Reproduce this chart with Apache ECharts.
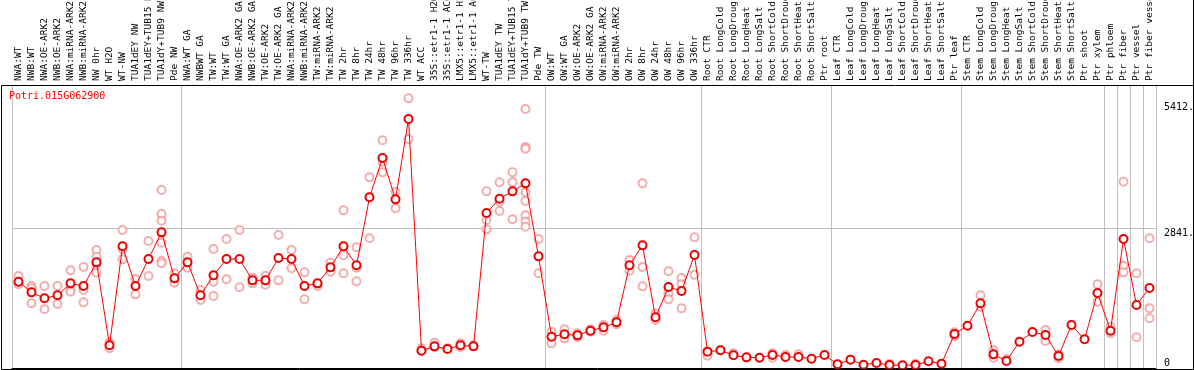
<!DOCTYPE html>
<html><head><meta charset="utf-8">
<script src="https://cdn.jsdelivr.net/npm/echarts@6/dist/echarts.min.js"></script>
<style>html,body{margin:0;padding:0;background:#fff;overflow:hidden}#c{width:1194px;height:370px}</style>
</head><body><div id="c"></div>
<script>
const geneName = 'Potri.015G062900';

const categories = [
  'NWA:WT','NWB:WT','NWA:OE-ARK2','NWB:OE-ARK2','NWA:miRNA-ARK2','NWB:miRNA-ARK2','NW 0hr','WT H2O','WT-NW','TUA1dEY NW','TUA1dEY+TUB15 NW','TUA1dY+TUB9 NW','Pde NW',
  'NWA:WT GA','NWBWT GA','TW:WT','TW:WT GA','NWA:OE-ARK2 GA','NWB:OE-ARK2 GA','TW:OE-ARK2','TW:OE-ARK2 GA','NWA:miRNA-ARK2 GA','NWB:miRNA-ARK2 GA','TW:miRNA-ARK2','TW:miRNA-ARK2',
  'TW 2hr','TW 8hr','TW 24hr','TW 48hr','TW 96hr','TW 336hr','WT ACC','35S::etr1-1 H2O','35S::etr1-1 ACC','LMX5::etr1-1 H2O','LMX5::etr1-1 ACC','WT-TW','TUA1dEY TW','TUA1dEY+TUB15 TW','TUA1dY+TUB9 TW','Pde TW',
  'OW:WT','OW:WT GA','OW:OE-ARK2','OW:OE-ARK2 GA','OW:miRNA-ARK2','OW:miRNA-ARK2','OW 2hr','OW 8hr','OW 24hr','OW 48hr','OW 96hr','OW 336hr',
  'Root CTR','Root LongCold','Root LongDrought','Root LongHeat','Root LongSalt','Root ShortCold','Root ShortDrought','Root ShortHeat','Root ShortSalt','Ptr root',
  'Leaf CTR','Leaf LongCold','Leaf LongDrought','Leaf LongHeat','Leaf LongSalt','Leaf ShortCold','Leaf ShortDrought','Leaf ShortHeat','Leaf ShortSalt','Ptr leaf',
  'Stem CTR','Stem LongCold','Stem LongDrought','Stem LongHeat','Stem LongSalt','Stem ShortCold','Stem ShortDrought','Stem ShortHeat','Stem ShortSalt','Ptr shoot',
  'Ptr xylem','Ptr phloem','Ptr fiber','Ptr vessel','Ptr fiber vessel'
];

const mainValues = [
  1758,1541,1419,1480,1724,1670,2152,462,2478,1670,2220,2763,1826,
  2152,1480,1887,2220,2220,1785,1785,2240,2220,1670,1724,2050,2478,2091,3476,4277,3435,5071,353,441,387,462,441,3157,3449,3598,3761,2274,
  638,686,665,760,828,930,2091,2498,1032,1650,1568,2301,
  333,360,258,217,210,265,224,224,190,265,
  75,170,68,102,61,54,61,136,88,692,
  862,1317,278,143,536,733,672,244,876,584,
  1527,760,2627,1283,1629
];

const replicateValues = [
  [1874,1704],[1670,1622,1317],[1670,1195],[1670,1303],[1989,1589,1555],[2057,1589,1337],[2403,2267,2098,1942],[516,401],[2811,2417,2213],[1813,1500],[2586,1874],[3625,3136,3001,2553,2179,2132],[1928,1738],
  [2267,2043],[1589,1385],[2424,1758,1466],[2627,1806],[2811,1643],[1840,1724],[1880,1697],[2709,1785],[2403,2030],[1948,1398],[1704,1670],[2145,1962],[3211,2295,1928],[2458,2043,1765],[3883,2641],[4637,4202,3985],[3591,3252],[5492,4664],[353,401],[516,421],[401],[502,421],[462],[3598,3014,2824],[3781,3388,3197],[3985,3781,3028],[5275,4501,4467,3578,3401,3109,2980,2878],[2627,1928],
  [740,502],[788,604],[706,625],[788,740],[876,760],[978,889],[2200,1982],[3761,2057,1663],[1113,978],[1969,1521,1398],[1833,1704,1215],[2661,1901],
  [251],[360],[299],[],[],[299,210],[265],[278],[],[],
  [],[],[],[],[88],[],[88],[],[],[726,645],
  [],[1480,1249],[367,210],[183],[],[],[774,550],[278,197],[],[],
  [1704,1351],[842,706],[3795,2084,1948],[1928,625],[2641,1215,1012]
];

const groupStarts = [0,13,41,53,63,73,84,85,86,87];
const yLabelValues = [5412, 2841];
const yZeroLabel = [0];
const refLineValue = 2841;
const yMax = 5764;

const FONT = 'DejaVu Sans Mono';
const GRID = '#c0c0c0';

const repData = [];
replicateValues.forEach((arr, i) => arr.forEach(v => repData.push([i, v])));
const isBoundary = (idx) => groupStarts.indexOf(idx) >= 0;

const chart = echarts.init(document.getElementById('c'), null, {renderer: 'canvas'});
chart.setOption({
  animation: false,
  backgroundColor: '#fff',
  title: {
    text: geneName, left: 9, top: 91, padding: 0,
    textStyle: {color: '#ff0000', fontFamily: FONT, fontSize: 10, fontWeight: 'normal'}
  },
  grid: {left: 12, right: 38, top: 85, bottom: 2, containLabel: false, outerBoundsMode: 'none'},
  xAxis: {
    type: 'category', position: 'top', boundaryGap: true, data: categories,
    axisLine: {show: true, lineStyle: {color: '#000', width: 1}},
    axisTick: {show: true, interval: isBoundary, length: 85, lineStyle: {color: GRID, width: 1}},
    axisLabel: {interval: 0, rotate: 90, margin: 4, fontFamily: FONT, fontSize: 9.5, color: '#000', hideOverlap: false},
    splitLine: {show: true, interval: isBoundary, lineStyle: {color: GRID, width: 1}}
  },
  yAxis: [
    {
      type: 'value', position: 'right', min: 0, max: yMax,
      axisLine: {show: false}, axisTick: {show: false}, splitLine: {show: false},
      axisLabel: {customValues: yLabelValues, formatter: v => v + '.', verticalAlign: 'top', align: 'left', margin: 8, fontFamily: FONT, fontSize: 10, color: '#000'}
    },
    {
      type: 'value', position: 'right', min: 0, max: yMax,
      axisLine: {show: false}, axisTick: {show: false}, splitLine: {show: false},
      axisLabel: {customValues: yZeroLabel, formatter: v => String(v), verticalAlign: 'bottom', align: 'left', margin: 8, fontFamily: FONT, fontSize: 10, color: '#000'}
    }
  ],
  series: [
    {
      type: 'scatter', data: repData, yAxisIndex: 0,
      symbol: 'emptyCircle', symbolSize: 8,
      itemStyle: {color: '#f09999', borderColor: '#f09999', borderWidth: 1.1},
      z: 2, silent: true
    },
    {
      type: 'line', data: mainValues, yAxisIndex: 0,
      symbol: 'emptyCircle', symbolSize: 8, showSymbol: true, showAllSymbol: true,
      lineStyle: {color: '#ff0000', width: 1},
      itemStyle: {color: '#ee0000', borderColor: '#ee0000', borderWidth: 1.3},
      z: 3, silent: true,
      markLine: {
        silent: true, symbol: 'none', label: {show: false},
        lineStyle: {color: GRID, type: 'solid', width: 1},
        data: [{yAxis: refLineValue}], z: 1
      }
    }
  ],
  graphic: [
    {type: 'rect', silent: true, z: 100, shape: {x: 1.5, y: 85.5, width: 1192, height: 284}, style: {fill: null, stroke: '#000', lineWidth: 1}},
    {type: 'line', silent: true, z: 100, shape: {x1: 1193.5, y1: 0, x2: 1193.5, y2: 86}, style: {stroke: '#000', lineWidth: 1}}
  ]
});
</script>
</body></html>
